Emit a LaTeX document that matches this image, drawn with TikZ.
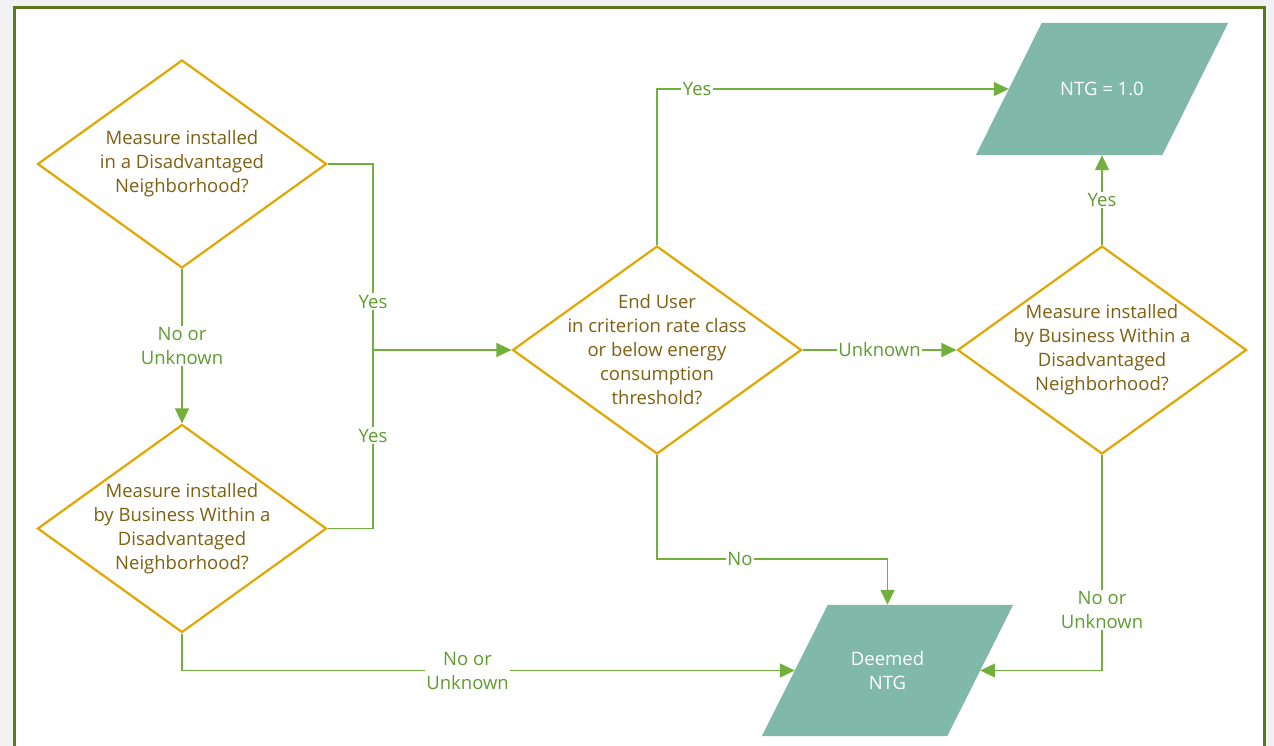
\documentclass[tikz,border=0pt]{standalone}
\usepackage{fontspec}
\setmainfont{Open Sans}
\usetikzlibrary{shapes.geometric,arrows.meta,calc}
\definecolor{bgc}{HTML}{F2F2F2}
\definecolor{framec}{HTML}{5B7A1F}
\definecolor{goldc}{HTML}{E3A600}
\definecolor{brownc}{HTML}{7F6010}
\definecolor{linec}{HTML}{72B03C}
\definecolor{labc}{HTML}{5E9C2F}
\definecolor{tealc}{HTML}{80B8AA}
\tikzset{
  dia/.style={diamond, draw=goldc, line width=2.2pt, minimum width=289pt, minimum height=208pt, inner sep=0pt},
  dtext/.style={align=center, text=brownc, font=\fontsize{18.5}{24}\selectfont, inner sep=0pt},
  parabox/.style={rectangle, minimum width=252pt, minimum height=132pt, inner sep=0pt, text=white, align=center,
    font=\fontsize{18.5}{24}\selectfont},
  conn/.style={draw=linec, line width=1.5pt},
  arr/.style={conn, -{Triangle[length=15pt,width=14pt]}},
  lab/.style={fill=white, text=labc, align=center, inner sep=1.5pt, font=\fontsize{18.5}{24}\selectfont}
}
\newcommand{\paraShape}[1]{%
  \fill[tealc] ($(#1.south west)$) -- ($(#1.north west)+(66,0)$) -- (#1.north east) -- ($(#1.south east)+(-66,0)$) -- cycle;
  \coordinate (#1-ls) at ($(#1.west)+(33,0)$);
  \coordinate (#1-rs) at ($(#1.east)+(-33,0)$);
}
\begin{document}
\begin{tikzpicture}[x=1pt,y=-1pt]
\useasboundingbox (0,0) rectangle (1274,746);
\fill[bgc] (0,0) rectangle (1274,746);
\begin{scope}
\clip (0,0) rectangle (1274,746);
\fill[white] (14.8,7.2) rectangle (1264.6,770);
\draw[framec, line width=2.7pt] (14.8,770) -- (14.8,7.2) -- (1264.6,7.2) -- (1264.6,770);
\end{scope}

% decisions
\node[dia] (d1) at (182,164) {};
\node[dia] (d2) at (182,528.5) {};
\node[dia] (d3) at (657,350) {};
\node[dia] (d4) at (1102,350) {};
\node[dtext] (t1) at (182,164) {Measure installed\\in a Disadvantaged\\Neighborhood?};
\node[dtext] (t2) at (182,528.5) {Measure installed\\by Business Within a\\Disadvantaged\\Neighborhood?};
\node[dtext] (t3) at (657,350) {End User\\in criterion rate class\\or below energy\\consumption\\threshold?};
\node[dtext] (t4) at (1102,350) {Measure installed\\by Business Within a\\Disadvantaged\\Neighborhood?};

% outputs (parallelograms)
\node[parabox] (p1) at (1102,89) {};
\paraShape{p1}
\node[parabox] (p1t) at (1102,89) {NTG = 1.0};
\node[parabox, minimum width=251pt, minimum height=131pt] (p2) at (887.5,670.5) {};
\paraShape{p2}
\node[parabox] (p2t) at (887.5,670.5) {Deemed\\NTG};

% helper points
\coordinate (j) at (373,350);
\coordinate (n1) at (887.5,559);

% connectors
\draw[arr] (d1.south) -- node[lab] (l1) {No or\\Unknown} (d2.north);
\draw[conn] (d1.east) -| node[lab, pos=0.87] (l2) {Yes} (j);
\draw[conn] (d2.east) -| node[lab, pos=0.76] (l3) {Yes} (j);
\draw[arr] (j) -- (d3.west);
\draw[arr] (d3.north) |- node[lab, pos=0.557] (l4) {Yes} (p1-ls);
\draw[arr] (d3.east) -- node[lab] (l5) {Unknown} (d4.west);
\draw[arr] (d4.north) -- node[lab] (l6) {Yes} (d4.north |- p1.south);
\draw[conn] (d3.south) |- node[lab, pos=0.68] (l7) {No} (n1);
\draw[arr] (n1) -- (p2.north);
\draw[arr] (d2.south) |- node[lab, pos=0.733] (l8) {No or\\Unknown} (p2-ls);
\draw[arr] (d4.south) |- node[lab, pos=0.36] (l9) {No or\\Unknown} (p2-rs);
\end{tikzpicture}
\end{document}
